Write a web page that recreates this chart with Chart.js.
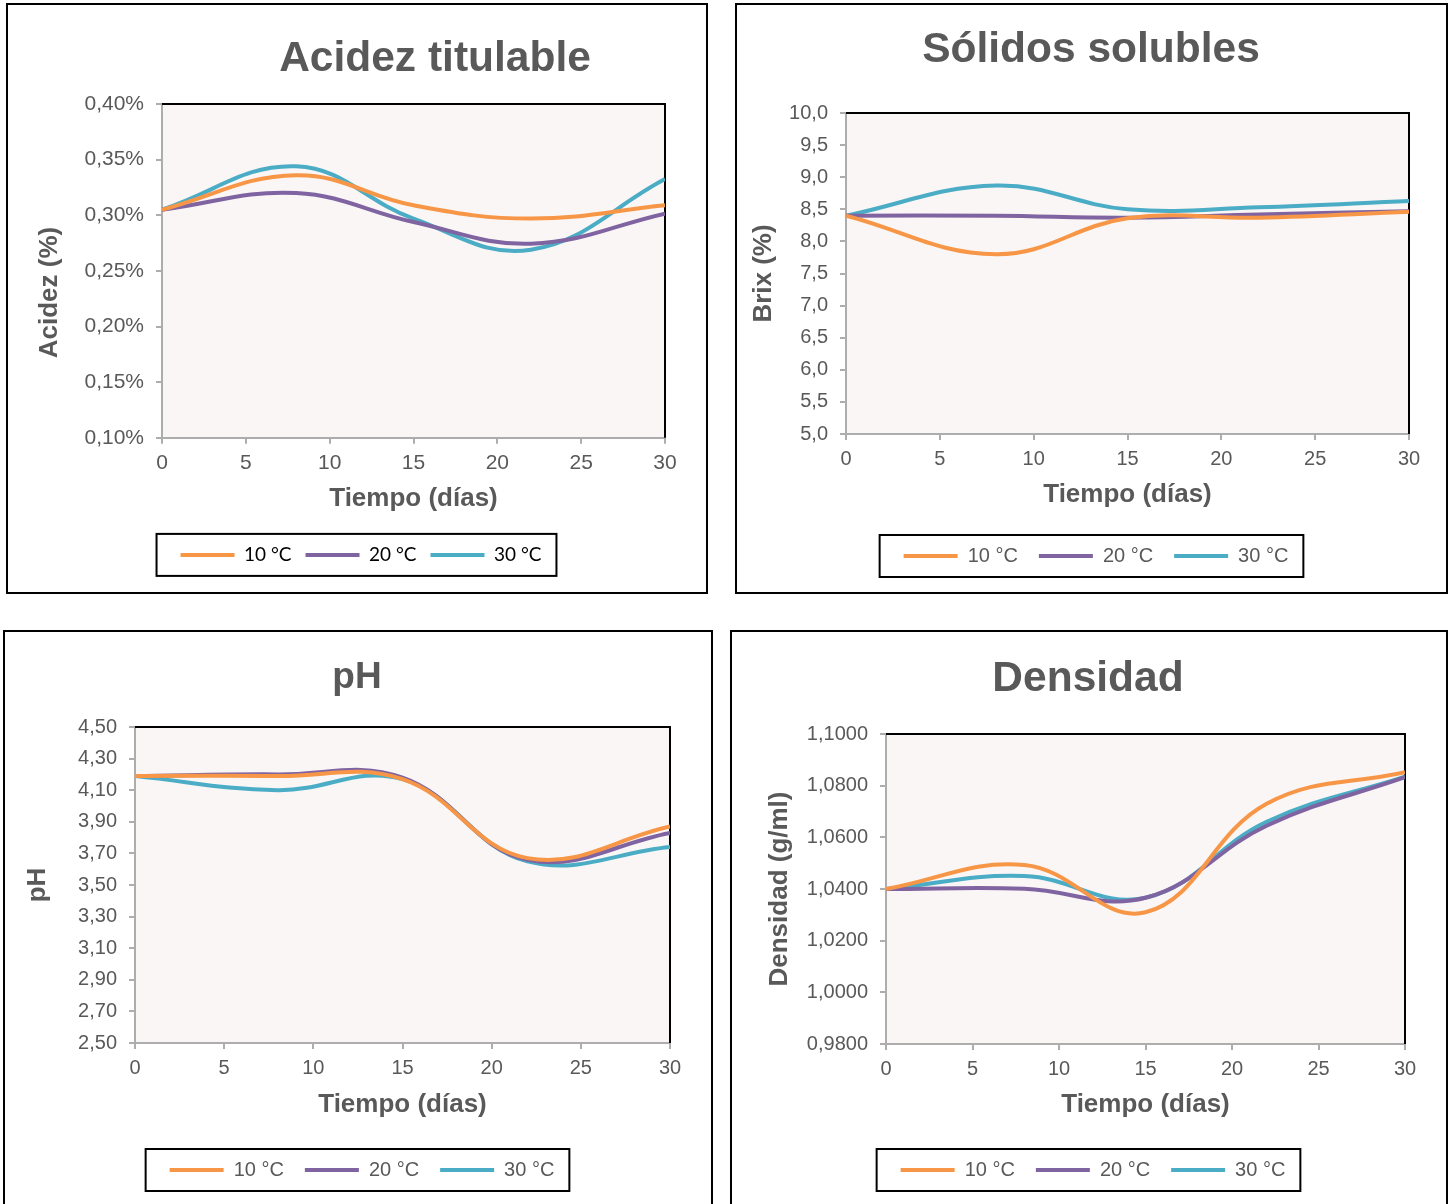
<!DOCTYPE html>
<html lang="es">
<head>
<meta charset="utf-8">
<title>Acidez, sólidos solubles, pH y densidad</title>
<script src="https://cdn.jsdelivr.net/npm/chart.js@4.4.1/dist/chart.umd.min.js"></script>
<style>
  html, body { margin: 0; padding: 0; background: #fff; }
  body { width: 1450px; height: 1204px; position: relative; overflow: hidden; font-family: 'Liberation Sans', Arial, sans-serif; }
  .panel { position: absolute; box-sizing: border-box; border: 2px solid #000; background: #fff; }
  .lienzo { position: absolute; }
  .titulo { position: absolute; transform: translate(-50%, -50%); white-space: nowrap; line-height: 1;
            font-weight: bold; color: #595959; font-family: 'Liberation Sans', Arial, sans-serif; }
</style>
</head>
<body>
<script>
// --- Datos ---
const dias = [0, 8, 15, 22, 30];
const series = ['10 °C', '20 °C', '30 °C'];
const coloresSerie = ['#F79646', '#8064A2', '#4BACC6'];

// Acidez titulable (%)
const acidez10 = [0.305, 0.336, 0.309, 0.297, 0.309];
const acidez20 = [0.305, 0.320, 0.294, 0.2745, 0.3015];
const acidez30 = [0.305, 0.344, 0.297, 0.269, 0.3325];

// Sólidos solubles (°Brix)
const brix10 = [8.40, 7.80, 8.36, 8.37, 8.46];
const brix20 = [8.40, 8.40, 8.37, 8.42, 8.47];
const brix30 = [8.40, 8.87, 8.50, 8.53, 8.63];

// pH
const ph10 = [4.19, 4.19, 4.17, 3.67, 3.87];
const ph20 = [4.19, 4.20, 4.18, 3.66, 3.83];
const ph30 = [4.19, 4.10, 4.17, 3.65, 3.74];

// Densidad (g/ml)
const dens10 = [1.0400, 1.0493, 1.0310, 1.0730, 1.0852];
const dens20 = [1.0400, 1.0401, 1.0366, 1.0645, 1.0833];
const dens30 = [1.0400, 1.0450, 1.0366, 1.0660, 1.0835];

// --- Ejes ---
const ejeX = { titulo: 'Tiempo (días)', min: 0, max: 30, paso: 5 };

// --- Disposición de cada panel (coordenadas de página) ---
const paneles = [
  { titulo: 'Acidez titulable', ejeY: 'Acidez (%)      ', datos: [acidez10, acidez20, acidez30],
    yMin: 0.10, yMax: 0.40, yPaso: 0.05, decimales: 2, sufijo: '%',
    caja: [6, 3, 702, 591], plot: [162, 104, 665, 437],
    tituloX: 435, tituloY: 57, tituloSize: 42.5, yTituloX: 50, xTituloY: 498, leyendaY: 556, leyendaCx: 356.5,
    tickSize: 21, leyendaPad: 14, leyendaFont: { family: 'Lato, "Open Sans", sans-serif', size: 19 }, leyendaColor: '#000' },
  { titulo: 'Sólidos solubles', ejeY: 'Brix (%)', datos: [brix10, brix20, brix30],
    yMin: 5, yMax: 10, yPaso: 0.5, decimales: 1, sufijo: '',
    caja: [735, 3, 713, 591], plot: [846, 113, 1409, 433],
    tituloX: 1091, tituloY: 48, tituloSize: 42.5, yTituloX: 764, xTituloY: 494, leyendaY: 557, leyendaCx: 1091.5,
    tickSize: 20, leyendaPad: 21, leyendaFont: { family: '"Liberation Sans", Arial, sans-serif', size: 20 }, leyendaColor: '#595959' },
  { titulo: 'pH', ejeY: 'pH', datos: [ph10, ph20, ph30],
    yMin: 2.5, yMax: 4.5, yPaso: 0.2, decimales: 2, sufijo: '',
    caja: [3, 630, 710, 600], plot: [135, 727, 670, 1042],
    tituloX: 357, tituloY: 675, tituloSize: 37, yTituloX: 38, xTituloY: 1104, leyendaY: 1171, leyendaCx: 357.5,
    tickSize: 20, leyendaPad: 21, leyendaFont: { family: '"Liberation Sans", Arial, sans-serif', size: 20 }, leyendaColor: '#595959' },
  { titulo: 'Densidad', ejeY: 'Densidad (g/ml)', datos: [dens10, dens20, dens30],
    yMin: 0.98, yMax: 1.10, yPaso: 0.02, decimales: 4, sufijo: '',
    caja: [730, 630, 718, 600], plot: [886, 734, 1405, 1043],
    tituloX: 1088, tituloY: 677, tituloSize: 42.5, yTituloX: 780, xTituloY: 1104, leyendaY: 1171, leyendaCx: 1088.5,
    tickSize: 20, leyendaPad: 21, leyendaFont: { family: '"Liberation Sans", Arial, sans-serif', size: 20 }, leyendaColor: '#595959' },
];

const GRIS_TEXTO = '#595959';
const GRIS_EJE = '#ADADAD';
const FONDO_PLOT = '#FAF6F5';
const ALTO_LIENZO = 587;
const FUENTE_EJE = { family: '"Liberation Sans", Arial, sans-serif', size: 26, weight: 'bold' };
const AJUSTE_LEYENDA = 3; // la leyenda de Chart.js sale ~3px más baja que lo calculado

// --- Plugin: fondo del área, marco negro arriba/derecha y recuadro de la leyenda ---
const marcoPlot = {
  id: 'marcoPlot',
  afterLayout(chart, args, opts) {
    // desplaza la leyenda horizontalmente para centrarla como en el original
    const leg = chart.legend;
    if (!leg || !opts.dx) return;
    leg.left += opts.dx;
    leg.right += opts.dx;
  },
  beforeDraw(chart) {
    const { ctx, chartArea: a } = chart;
    ctx.save();
    ctx.fillStyle = FONDO_PLOT;
    ctx.fillRect(a.left, a.top, a.right - a.left, a.bottom - a.top);
    ctx.restore();
  },
  beforeDatasetsDraw(chart) {
    const { ctx, chartArea: a } = chart;
    ctx.save();
    ctx.strokeStyle = '#000';
    ctx.lineWidth = 2;
    ctx.beginPath();
    ctx.moveTo(a.left, a.top);
    ctx.lineTo(a.right, a.top);
    ctx.lineTo(a.right, a.bottom);
    ctx.stroke();
    ctx.restore();
  },
  afterDraw(chart) {
    const cajas = chart.legend && chart.legend.legendHitBoxes;
    if (!cajas || !cajas.length) return;
    const izq = Math.min(...cajas.map(h => h.left));
    const der = Math.max(...cajas.map(h => h.left + h.width));
    const cy = cajas[0].top + cajas[0].height / 2;
    const { ctx } = chart;
    ctx.save();
    ctx.strokeStyle = '#000';
    ctx.lineWidth = 2;
    ctx.strokeRect(izq - 24, cy - 21, der - izq + 39, 42);
    ctx.restore();
  }
};

function fmt(v, dec, suf) {
  return Number(v).toFixed(dec).replace('.', ',') + suf;
}

function dibujarPanel(p) {
  const [bx, by, bw, bh] = p.caja;
  const caja = document.createElement('div');
  caja.className = 'panel';
  Object.assign(caja.style, { left: bx + 'px', top: by + 'px', width: bw + 'px', height: bh + 'px' });
  document.body.appendChild(caja);

  // lienzo dentro del borde
  const x0 = bx + 2, y0 = by + 2, W = bw - 4, H = ALTO_LIENZO;
  const canvas = document.createElement('canvas');
  canvas.className = 'lienzo';
  canvas.width = W;
  canvas.height = H;
  Object.assign(canvas.style, { left: x0 + 'px', top: y0 + 'px', width: W + 'px', height: H + 'px' });
  document.body.appendChild(canvas);

  const tit = document.createElement('div');
  tit.className = 'titulo';
  tit.textContent = p.titulo;
  Object.assign(tit.style, { left: p.tituloX + 'px', top: p.tituloY + 'px', fontSize: p.tituloSize + 'px' });
  document.body.appendChild(tit);

  // geometría relativa al lienzo
  const [pl, pt, pr, pb] = [p.plot[0] - x0, p.plot[1] - y0, p.plot[2] - x0, p.plot[3] - y0];
  const mitadTitulo = FUENTE_EJE.size * 1.2 / 2;
  const padL = (p.yTituloX - x0) - mitadTitulo;
  const anchoY = pl - padL;
  const padR = W - pr;
  const altoItem = p.leyendaFont.size * 1.2;
  const legTop = (p.leyendaY - y0) - p.leyendaPad - altoItem / 2;
  const legBottom = legTop + altoItem + p.leyendaPad + 10;
  const padB = H - legBottom + AJUSTE_LEYENDA;
  const altoX = legTop - pb;
  const padTituloX = legTop - (p.xTituloY - y0) - mitadTitulo;
  // centro del recuadro = centro de la fila - 4.5 (márgenes 24 / 15)
  const dxLeyenda = (p.leyendaCx + 4.5 - x0) - (padL + W - padR) / 2;

  const datasets = series.map((nombre, i) => ({
    label: nombre,
    data: dias.map((d, j) => ({ x: d, y: p.datos[i][j] })),
    borderColor: coloresSerie[i],
    backgroundColor: coloresSerie[i],
    borderWidth: 4,
    pointRadius: 0,
    pointHoverRadius: 0,
    tension: 0.4,
    fill: false,
  }));

  const tickFont = { family: '"Liberation Sans", Arial, sans-serif', size: p.tickSize };

  new Chart(canvas, {
    type: 'line',
    data: { datasets },
    plugins: [marcoPlot],
    options: {
      responsive: false,
      animation: false,
      layout: { padding: { left: padL, right: padR, top: pt, bottom: padB } },
      scales: {
        x: {
          type: 'linear', min: ejeX.min, max: ejeX.max,
          ticks: { stepSize: ejeX.paso, color: GRIS_TEXTO, font: tickFont, padding: 7, maxRotation: 0 },
          grid: { drawOnChartArea: false, tickLength: 6, color: GRIS_EJE, lineWidth: 2 },
          border: { color: GRIS_EJE, width: 2 },
          title: { display: true, text: ejeX.titulo, color: GRIS_TEXTO, font: FUENTE_EJE, padding: { top: 0, bottom: padTituloX } },
          afterFit: s => { s.height = altoX; },
        },
        y: {
          type: 'linear', min: p.yMin, max: p.yMax,
          ticks: { stepSize: p.yPaso, color: GRIS_TEXTO, font: tickFont, padding: 12,
                   callback: v => fmt(v, p.decimales, p.sufijo) },
          grid: { drawOnChartArea: false, tickLength: 6, color: GRIS_EJE, lineWidth: 2 },
          border: { color: GRIS_EJE, width: 2 },
          title: { display: true, text: p.ejeY, color: GRIS_TEXTO, font: FUENTE_EJE, padding: { top: 0, bottom: 0 } },
          afterFit: s => { s.width = anchoY; },
        },
      },
      plugins: {
        title: { display: false },
        tooltip: { enabled: false },
        marcoPlot: { dx: dxLeyenda },
        legend: {
          position: 'bottom',
          labels: {
            boxWidth: 54, boxHeight: 4, padding: p.leyendaPad,
            color: p.leyendaColor, font: p.leyendaFont,
            generateLabels: chart => Chart.defaults.plugins.legend.labels.generateLabels(chart)
              .map(l => ({ ...l, lineWidth: 0 })),
          },
        },
      },
    },
  });
}

paneles.forEach(dibujarPanel);
</script>
</body>
</html>
